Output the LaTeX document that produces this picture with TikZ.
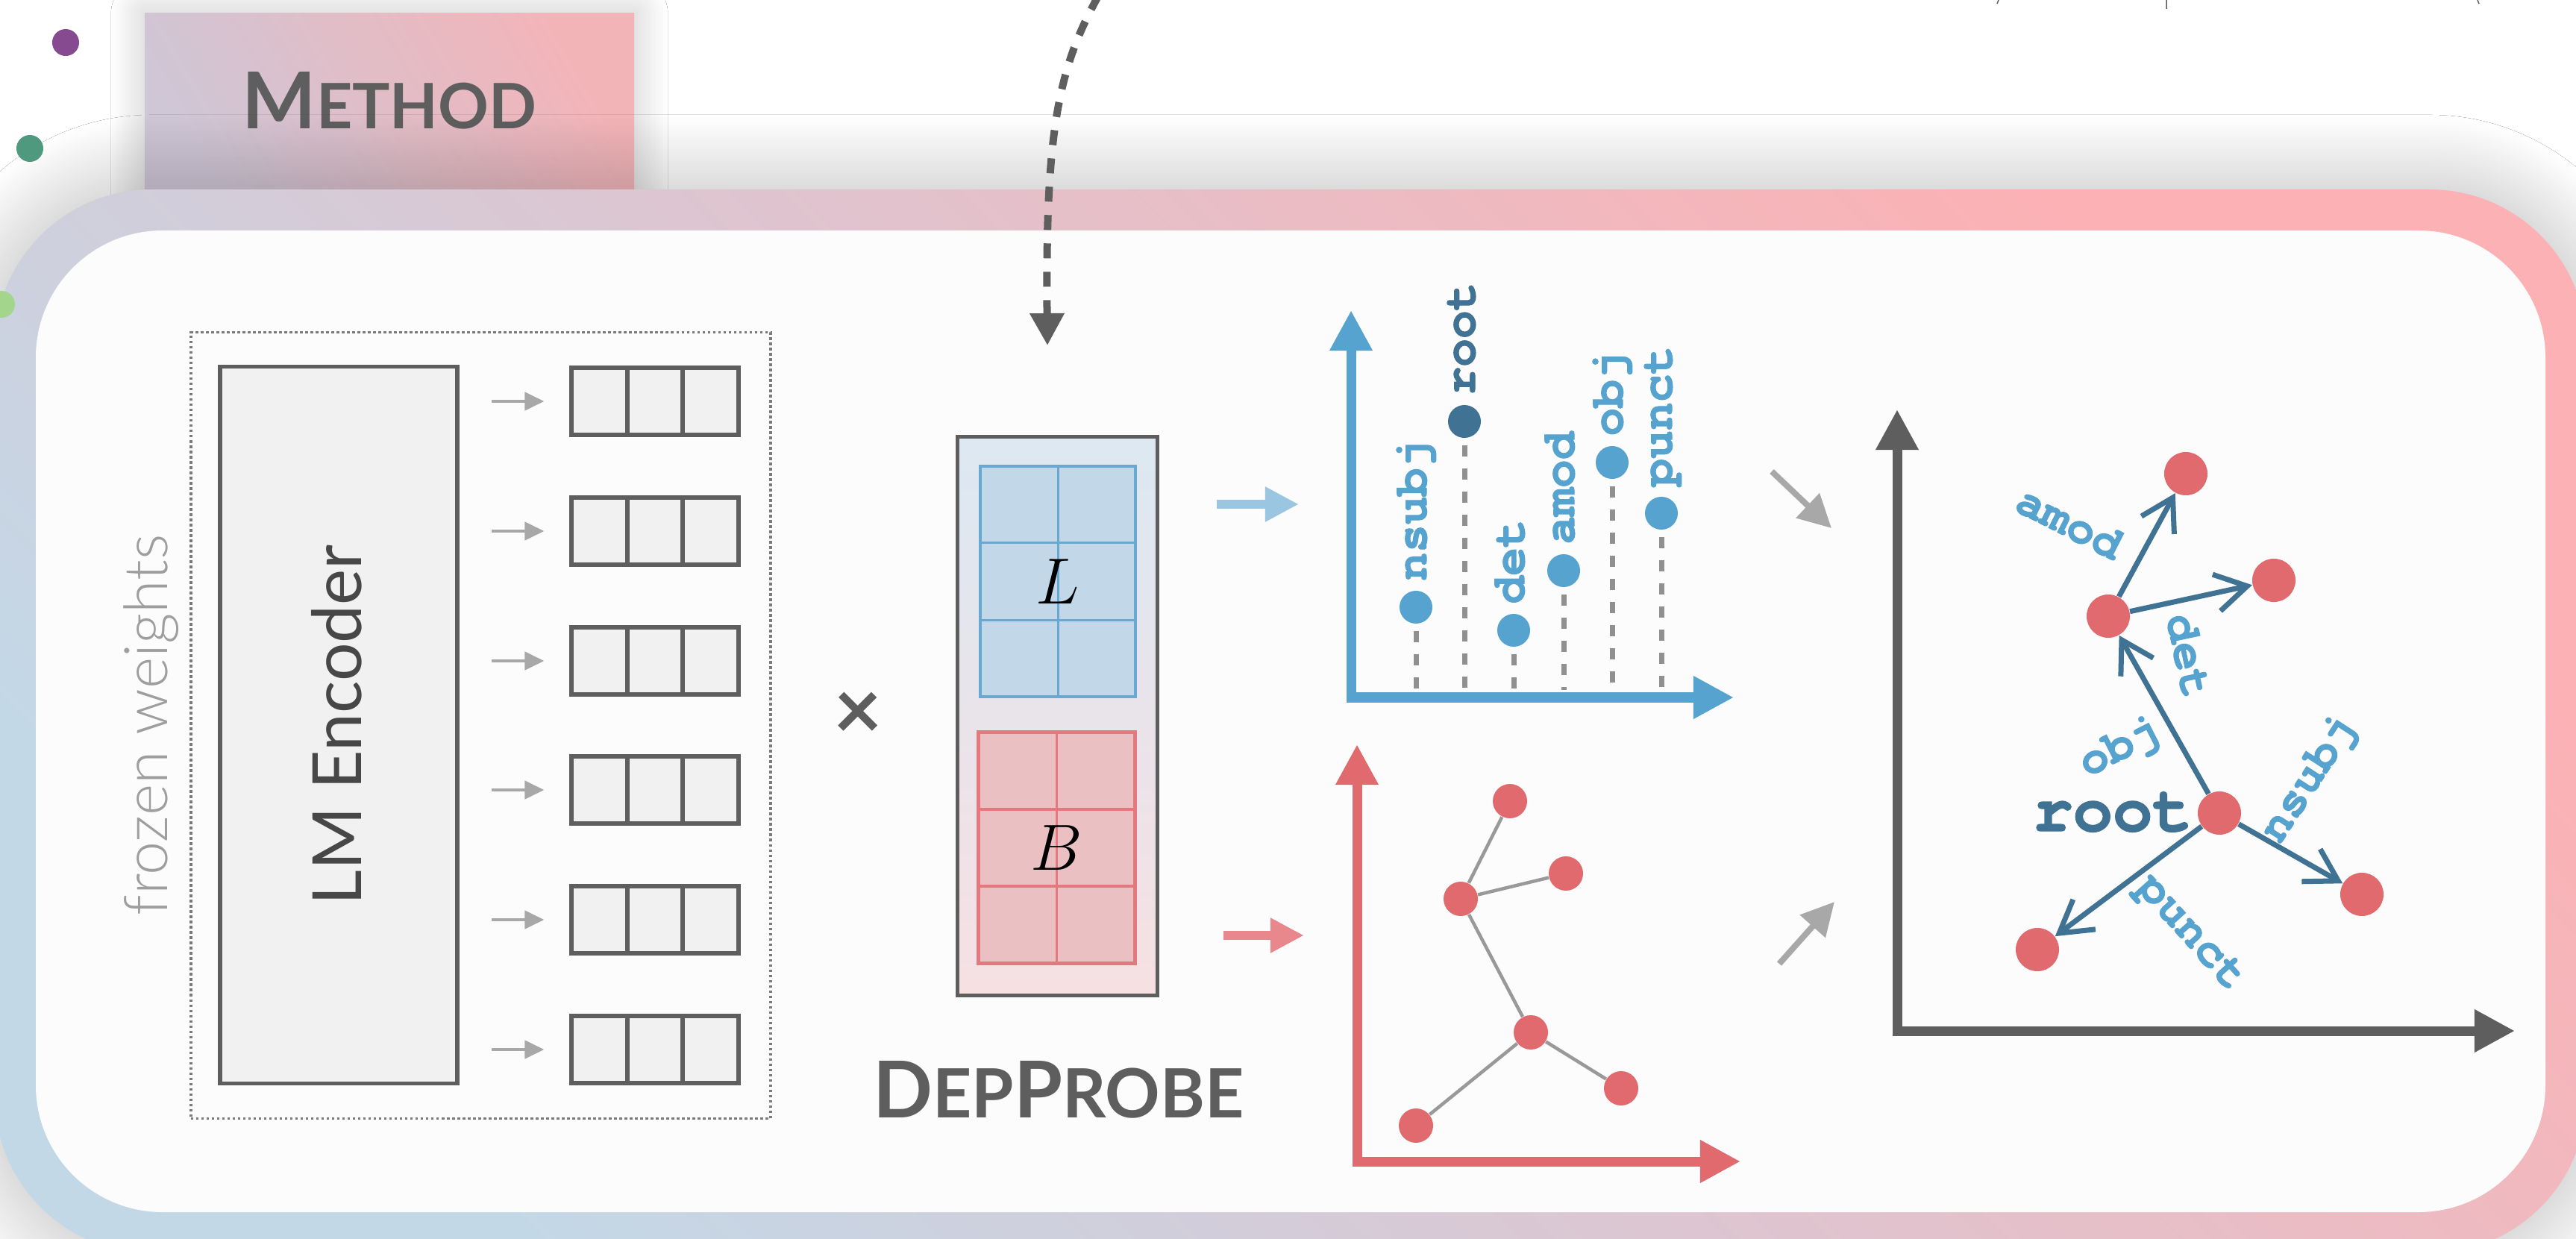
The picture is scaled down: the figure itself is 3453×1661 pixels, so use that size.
\documentclass[tikz,border=0pt]{standalone}
\usepackage{fontspec}
\setmainfont{Lato}
\IfFontExistsTF{texgyrecursor-bold.otf}
  {\newfontfamily\codefont{texgyrecursor}[Extension=.otf, UprightFont=*-regular, BoldFont=*-bold, BoldFeatures={FakeBold=1.6}]}
  {\newfontfamily\codefont{Liberation Mono}}
\IfFontExistsTF{Lato Light}{\newfontfamily\thinfont{Lato Light}}{\newfontfamily\thinfont{Lato}}
\usetikzlibrary{arrows.meta,shadows.blur}

\definecolor{dgray}{HTML}{5E5E5E}
\definecolor{cellfill}{HTML}{F0F1F0}
\definecolor{lblue}{HTML}{57A3D0}
\definecolor{dblue}{HTML}{407393}
\definecolor{pblue}{HTML}{9BC6E1}
\definecolor{lred}{HTML}{E06A6E}
\definecolor{pred}{HTML}{E8888C}
\definecolor{agray}{HTML}{A8A8A8}
\definecolor{sgray}{HTML}{909090}
\definecolor{Lfill}{HTML}{C2D8E8}
\definecolor{Lline}{HTML}{68A9D4}
\definecolor{Bfill}{HTML}{EBC0C3}
\definecolor{Bline}{HTML}{E3787E}
\definecolor{ringblue}{HTML}{C3D8E7}
\definecolor{ringmid}{HTML}{DFC4CF}
\definecolor{ringpink}{HTML}{FCB1B4}
\definecolor{tabpink}{HTML}{F3B4B8}
\definecolor{tablav}{HTML}{CFC6D6}
\definecolor{probetop}{HTML}{DCE8F2}
\definecolor{probebot}{HTML}{F6E0E2}
\definecolor{paper}{HTML}{FCFCFC}
\definecolor{dotpurple}{HTML}{854A8F}
\definecolor{dotgreen}{HTML}{4F9A7E}
\definecolor{dotlime}{HTML}{A3D68C}

\newcommand{\bigsc}[1]{{\fontsize{29.9}{30}\selectfont #1}}
\newcommand{\smallsc}[2][23.9]{{\fontsize{#1}{#1}\selectfont #2}}
\newcommand{\deplabfont}{\codefont\bfseries\fontsize{17.9}{18}\selectfont}

\tikzset{
  tabbox/.style={minimum width=6.56cm, minimum height=2.52cm, top color=tabpink, bottom color=tablav, shading angle=-60,
    blur shadow={shadow xshift=0cm, shadow yshift=0cm, shadow blur radius=0.45cm, shadow blur steps=40, shadow opacity=22}},
  ringframe/.style={rounded corners=2.1cm, top color=ringpink, bottom color=ringblue, middle color=ringmid, shading angle=-45,
    blur shadow={shadow xshift=0cm, shadow yshift=0cm, shadow blur radius=1cm, shadow blur steps=60, shadow opacity=28}},
  titletext/.style={anchor=base, text=dgray, font=\bfseries, inner sep=0pt},
  frozenbox/.style={draw=black!52, line width=0.035cm, dash pattern=on 0.035cm off 0.035cm, minimum width=7.77cm, minimum height=10.53cm},
  frozenlabel/.style={rotate=90, anchor=base, text=black!38, font=\thinfont\fontsize{23}{23}\selectfont, inner sep=0pt},
  encbox/.style={draw=dgray, fill=cellfill, line width=0.055cm, minimum width=3.18cm, minimum height=9.6cm},
  enclabel/.style={rotate=90, anchor=base, text=black!72, font=\fontsize{25.9}{26}\selectfont, inner sep=0pt},
  cellbox/.style={draw=dgray, fill=cellfill, line width=0.06cm, minimum width=2.23cm, minimum height=0.9cm,
    path picture={\draw[dgray, line width=0.06cm]
      ([xshift=-0.372cm]path picture bounding box.north) -- ([xshift=-0.372cm]path picture bounding box.south)
      ([xshift=0.372cm]path picture bounding box.north) -- ([xshift=0.372cm]path picture bounding box.south);}},
  encarrow/.style={agray, line width=0.045cm, -{Triangle[length=0.26cm, width=0.24cm]}, shorten <=0.43cm, shorten >=0.34cm},
  probebox/.style={draw=dgray, line width=0.05cm, top color=probetop, bottom color=probebot, minimum width=2.67cm, minimum height=7.48cm},
  matL/.style={draw=Lline, fill=Lfill, line width=0.04cm, minimum width=2.08cm, minimum height=3.09cm, font=\fontsize{25}{25}\selectfont,
    path picture={\draw[Lline, line width=0.03cm]
      (path picture bounding box.north) -- (path picture bounding box.south)
      ([yshift=-1.03cm]path picture bounding box.north west) -- ([yshift=-1.03cm]path picture bounding box.north east)
      ([yshift=1.03cm]path picture bounding box.south west) -- ([yshift=1.03cm]path picture bounding box.south east);}},
  matB/.style={draw=Bline, fill=Bfill, line width=0.05cm, minimum width=2.09cm, minimum height=3.09cm, font=\fontsize{25}{25}\selectfont,
    path picture={\draw[Bline, line width=0.035cm]
      (path picture bounding box.north) -- (path picture bounding box.south)
      ([yshift=-1.03cm]path picture bounding box.north west) -- ([yshift=-1.03cm]path picture bounding box.north east)
      ([yshift=1.03cm]path picture bounding box.south west) -- ([yshift=1.03cm]path picture bounding box.south east);}},
  probearrow/.style={line width=0.12cm, -{Triangle[length=0.45cm, width=0.44cm]}},
  grayarrow/.style={agray, line width=0.08cm, -{Triangle[length=0.44cm, width=0.44cm]}},
  dasharrow/.style={dgray, line width=0.1cm, dash pattern=on 0.2cm off 0.18cm, -{Triangle[length=0.43cm, width=0.44cm]}},
  axisline/.style={line width=0.13cm, line join=miter, {Triangle[length=0.54cm, width=0.54cm]}-{Triangle[length=0.54cm, width=0.54cm]}},
  bdot/.style={circle, fill=lblue, minimum size=0.44cm, inner sep=0pt},
  stem/.style={sgray, line width=0.07cm, dash pattern=on 0.15cm off 0.16cm, shorten <=0.09cm, shorten >=0.1cm},
  blab/.style={rotate=90, anchor=west, text=lblue, font=\deplabfont, text height=0.28cm, text depth=0cm, inner xsep=0.12cm, inner ysep=0pt},
  rdot/.style={circle, fill=lred, minimum size=0.46cm, inner sep=0pt},
  redge/.style={black!40, line width=0.045cm},
  tdot/.style={circle, fill=lred, minimum size=0.58cm, inner sep=0pt},
  dep/.style={dblue, line width=0.07cm, -{Straight Barb[length=0.42cm, width=0.5cm]}},
  tlab/.style={text=lblue, font=\deplabfont, text height=0.28cm, text depth=0cm, inner sep=0pt},
  rootlab/.style={text=dblue, font=\codefont\bfseries\fontsize{25.3}{26}\selectfont, text height=0.4cm, text depth=0cm, inner sep=0pt}
}

\begin{document}
\begin{tikzpicture}[x=0.01cm, y=-0.01cm]
\useasboundingbox (0,0) rectangle (3453,1661);
\clip (0,0) rectangle (3453,1661);
\fill[white] (0,0) rectangle (3453,1661);

\node[tabbox] (tab) at (522,144) {};
\node[titletext] (tabtitle) at (522,173) {\bigsc{M}\smallsc{ETHOD}};

\path[ringframe] (-7,254) rectangle (3467,1680);
\fill[paper, rounded corners=1.7cm] (48,309) rectangle (3412,1625);

\fill[dotpurple] (88,57) circle (0.18cm);
\fill[dotgreen] (40,199) circle (0.18cm);
\fill[dotlime] (2,408) circle (0.18cm);
\draw[dgray, line width=0.015cm] (2679,0) -- (2677,5) (2904,0) -- (2904,12) (3321,0) -- (3323,5);

\node[frozenbox] (frozen) at (644.5,972.5) {};
\node[frozenlabel] (frozentext) at (224,972) {frozen weights};
\node[encbox] (enc) at (454,972) {};
\node[enclabel] (enctext) at (484,972) {LM Encoder};

\node[cellbox] (v1) at (878,538) {};
\node[cellbox] (v2) at (878,712) {};
\node[cellbox] (v3) at (878,886) {};
\node[cellbox] (v4) at (878,1059) {};
\node[cellbox] (v5) at (878,1233) {};
\node[cellbox] (v6) at (878,1407) {};
\draw[encarrow] (enc.east |- v1) -- (v1.west);
\draw[encarrow] (enc.east |- v2) -- (v2.west);
\draw[encarrow] (enc.east |- v3) -- (v3.west);
\draw[encarrow] (enc.east |- v4) -- (v4.west);
\draw[encarrow] (enc.east |- v5) -- (v5.west);
\draw[encarrow] (enc.east |- v6) -- (v6.west);

\node[text=dgray, font=\bfseries\fontsize{32}{32}\selectfont, inner sep=0pt] (times) at (1150,960) {×};

\node[probebox] (probe) at (1417.5,960) {};
\node[matL] (Lmat) at (1418,779.5) {$L$};
\node[matB] (Bmat) at (1416.5,1136.5) {$B$};
\node[titletext] (probetitle) at (1419,1498) {\bigsc{D}\smallsc[25.9]{EP}\bigsc{P}\smallsc[25.9]{ROBE}};

\coordinate (qa) at (1472,-5);
\coordinate (qb) at (1404,463);
\draw[dasharrow] (qa) .. controls (1420,90) and (1401,170) .. (qb);

\coordinate (bo) at (1811,935);
\coordinate (by) at (1811,416);
\coordinate (bx) at (2324,935);
\coordinate (lrow) at (1628,676);
\draw[probearrow, pblue, shorten <=0.77cm, shorten >=0.7cm] (probe.east |- lrow) -- (bo |- lrow);
\draw[axisline, lblue] (by) -- (bo) -- (bx);

\node[bdot] (bnsubj) at (1898,814) {};
\node[bdot, fill=dblue] (broot) at (1963,565) {};
\node[bdot] (bdet) at (2029,845) {};
\node[bdot] (bamod) at (2096,765) {};
\node[bdot] (bobj) at (2161,620) {};
\node[bdot] (bpunct) at (2227,688) {};
\draw[stem] (bnsubj.south) -- (bnsubj |- bo);
\draw[stem] (broot.south) -- (broot |- bo);
\draw[stem] (bdet.south) -- (bdet |- bo);
\draw[stem] (bamod.south) -- (bamod |- bo);
\draw[stem] (bobj.south) -- (bobj |- bo);
\draw[stem] (bpunct.south) -- (bpunct |- bo);
\node[blab] (tnsubjlab) at (bnsubj.north) {nsubj};
\node[blab, text=dblue] (trootlab) at (broot.north) {root};
\node[blab] (tdetlab) at (bdet.north) {det};
\node[blab] (tamodlab) at (bamod.north) {amod};
\node[blab] (tobjlab) at (bobj.north) {obj};
\node[blab] (tpunctlab) at (bpunct.north) {punct};

\coordinate (ro) at (1819,1557);
\coordinate (ry) at (1819,998);
\coordinate (rx) at (2333,1557);
\coordinate (brow) at (1637,1254);
\draw[probearrow, pred, shorten <=0.86cm, shorten >=0.71cm] (probe.east |- brow) -- (ro |- brow);
\draw[axisline, lred] (ry) -- (ro) -- (rx);

\node[rdot] (r1) at (2024,1074) {};
\node[rdot] (r2) at (2099,1171) {};
\node[rdot] (r3) at (1958,1205) {};
\node[rdot] (r4) at (2052,1384) {};
\node[rdot] (r5) at (2173,1459) {};
\node[rdot] (r6) at (1898,1509) {};
\draw[redge] (r3) -- (r1);
\draw[redge] (r3) -- (r2);
\draw[redge] (r3) -- (r4);
\draw[redge] (r4) -- (r5);
\draw[redge] (r4) -- (r6);

\coordinate (g1a) at (2375,632);
\coordinate (g1b) at (2455,708);
\coordinate (g2a) at (2385,1292);
\coordinate (g2b) at (2459,1209);
\draw[grayarrow] (g1a) -- (g1b);
\draw[grayarrow] (g2a) -- (g2b);

\coordinate (go) at (2543,1382);
\coordinate (gy) at (2543,549);
\coordinate (gx) at (3371,1382);
\draw[axisline, dgray] (gy) -- (go) -- (gx);

\node[tdot] (tamod) at (2930,635) {};
\node[tdot] (tdet) at (3048,778) {};
\node[tdot] (thub) at (2826,826) {};
\node[tdot] (troot) at (2975,1090) {};
\node[tdot] (tnsubj) at (3166,1199) {};
\node[tdot] (tpunct) at (2731,1273) {};
\draw[dep] (troot) -- (thub);
\draw[dep] (thub) -- (tamod);
\draw[dep] (thub) -- (tdet);
\draw[dep] (troot) -- (tnsubj);
\draw[dep] (troot) -- (tpunct);
\node[tlab, rotate=-27] (lamod) at (2772,705) {amod};
\node[tlab, rotate=-78] (ldet) at (2929,880) {det};
\node[tlab, rotate=27] (lobj) at (2842,1004) {obj};
\node[tlab, rotate=57] (lnsubj) at (3096,1046) {nsubj};
\node[tlab, rotate=-48] (lpunct) at (2936,1251) {punct};
\node[rootlab] (lroot) at (2832,1094) {root};
\end{tikzpicture}
\end{document}
